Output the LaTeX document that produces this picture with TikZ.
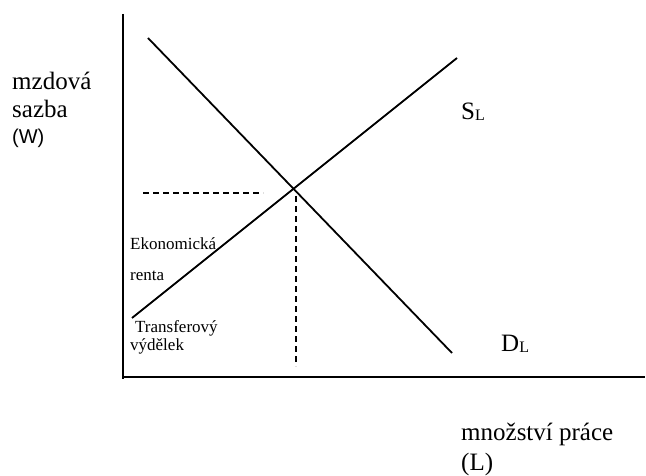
\documentclass[tikz,border=0pt]{standalone}
\usepackage{fontspec}
\setmainfont{Liberation Serif}
\newfontfamily\arialfont{Liberation Sans}
\begin{document}
\begin{tikzpicture}[x=1pt,y=-1pt,
  axisline/.style={line width=2pt,black},
  curve/.style={line width=1.8pt,black},
  guide/.style={line width=1.2pt,black,dash pattern=on 6pt off 4pt},
  biglabel/.style={inner sep=0pt,anchor=base west,font=\fontsize{25}{29}\selectfont},
  smalllabel/.style={inner sep=0pt,anchor=base west,font=\fontsize{17}{20}\selectfont}]
\useasboundingbox (0,0) rectangle (646,476);
% axes
\coordinate (ytop) at (123,14);
\coordinate (origin) at (123,379);
\coordinate (xend) at (645,377);
\draw[axisline] (ytop) -- (origin);
\draw[axisline] (123,377) -- (xend);
% curves
\coordinate (d1) at (148,38);
\coordinate (d2) at (452,353);
\coordinate (s1) at (132,318);
\coordinate (s2) at (457,58);
\draw[curve] (d1) -- (d2);
\draw[curve] (s1) -- (s2);
% guides
\coordinate (h1) at (143,193);
\coordinate (h2) at (263,193);
\coordinate (v1) at (296,196);
\coordinate (v2) at (296,366);
\draw[guide] (h1) -- (h2);
\draw[guide] (v1) -- (v2);
% labels
\node[biglabel] (ylab1) at (12,90) {mzdová};
\node[biglabel] (ylab2) at (12,118) {sazba};
\node[inner sep=0pt,anchor=base west,font=\arialfont\fontsize{20}{24}\selectfont] (ylab3) at (12,144) {(W)};
\node[biglabel] (xlab1) at (461,440) {množství práce};
\node[biglabel] (xlab2) at (461,470) {(L)};
\node[biglabel] (sl) at (461,120) {S\raisebox{-1pt}{\fontsize{16}{18}\selectfont L}};
\node[biglabel] (dl) at (501,351) {D\raisebox{-1pt}{\fontsize{16}{18}\selectfont L}};
\node[smalllabel] (ek) at (130,250) {Ekonomická};
\node[smalllabel] (re) at (130,280) {renta};
\node[smalllabel] (tr) at (135,332) {Transferový};
\node[smalllabel] (vy) at (130,350) {výdělek};
\end{tikzpicture}
\end{document}
